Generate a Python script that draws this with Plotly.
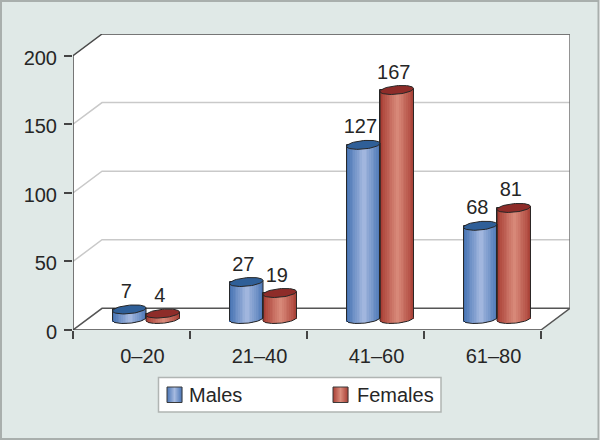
import numpy as np
import plotly.graph_objects as go

categories = ["0–20", "21–40", "41–60", "61–80"]
males = [7, 27, 127, 68]
females = [4, 19, 167, 81]
y_ticks = [0, 50, 100, 150, 200]

DX, DY = 0.248, 15.8          # depth of the box in data units
BW = 0.286                    # cylinder width
FLOOR = 8.0                   # cylinder base level
EB = 3.1                      # ellipse semi-minor
TILT = 1.1                    # ellipse tilt
NSTRIP = 19
FONT = "Liberation Sans, Arial, sans-serif"
INK = "#262626"
FS = 20
L, T, PW, PH = 73, 34, 497, 296   # plot area in pixels

def mix(c1, c2, f):
    return "rgb(%d,%d,%d)" % tuple(round(a + (b - a) * f) for a, b in zip(c1, c2))

def px(x):
    return (x - L) / PW

def py(y):
    return (T + PH - y) / PH

series = [
    dict(name="Males", vals=males, side=-0.5, edge=(72, 116, 180), mid=(166, 186, 224),
         top="#2f5f98", swatch="#7d9fd2", leg=(167, 188)),
    dict(name="Females", vals=females, side=0.5, edge=(168, 62, 52), mid=(218, 140, 124),
         top="#8e2c29", swatch="#cf6f62", leg=(333, 356)),
]

fig = go.Figure()
idx = np.arange(len(categories), dtype=float)
for s in series:
    vals = np.array(s["vals"], dtype=float)
    cx = idx + 0.5 + DX / 2 + s["side"] * BW
    fig.add_trace(go.Bar(x=cx, y=vals, base=FLOOR, width=BW, name=s["name"], showlegend=False,
                         marker=dict(color=s["swatch"], line=dict(color=INK, width=1)),
                         hoverinfo="skip"))
    edges = np.linspace(-1, 1, NSTRIP + 1)
    for k in range(NSTRIP):
        u = (edges[k] + edges[k + 1]) / 2
        low = FLOOR + TILT * u - EB * np.sqrt(max(0, 1 - u * u))
        high = vals + FLOOR + TILT * u
        f = 1 - abs(u - 0.05)
        fig.add_trace(go.Bar(x=cx + u * BW / 2, y=high - low, base=low,
                             width=BW / NSTRIP * 1.25, showlegend=False, hoverinfo="skip",
                             marker=dict(color=mix(s["edge"], s["mid"], f), line=dict(width=0))))
    th = np.linspace(0, 2 * np.pi, 61)
    tx, ty, ox, oy = [], [], [], []
    ub = np.linspace(-1, 1, 41)
    for c, v in zip(cx, vals):
        tx += list(c + np.cos(th) * BW / 2) + [None]
        ty += list(FLOOR + v + TILT * np.cos(th) + EB * np.sin(th)) + [None]
        ox += list(c + ub * BW / 2) + [None]
        oy += list(FLOOR + TILT * ub - EB * np.sqrt(1 - ub * ub)) + [None]
        ox += [c - BW / 2, c - BW / 2, None, c + BW / 2, c + BW / 2, None]
        oy += [FLOOR - TILT, FLOOR + v - TILT, None, FLOOR + TILT, FLOOR + v + TILT, None]
    fig.add_trace(go.Scatter(x=ox, y=oy, mode="lines", showlegend=False, hoverinfo="skip",
                             line=dict(color=INK, width=1)))
    fig.add_trace(go.Scatter(x=tx, y=ty, mode="lines", fill="toself", fillcolor=s["top"],
                             showlegend=False, hoverinfo="skip", line=dict(color=INK, width=1)))
    fig.add_trace(go.Scatter(x=cx - 0.025, y=vals + FLOOR + 12, mode="text",
                             text=[str(int(v)) for v in vals], textposition="middle center",
                             textfont=dict(family=FONT, size=FS, color=INK),
                             showlegend=False, hoverinfo="skip"))

X = len(categories)
shapes = [
    dict(type="rect", xref="paper", yref="paper", layer="below",
         x0=px(1), x1=px(598.5), y0=py(439), y1=py(1), fillcolor="#e0e9e7",
         line=dict(color="#a9afad", width=2)),
    dict(type="path", xref="x", yref="y", layer="below", fillcolor="white", line=dict(width=0),
         path=f"M0,0 L0,200 L{DX},{200+DY} L{X+DX},{200+DY} L{X+DX},{DY} L{X},0 Z"),
]
def seg(pts, color, width):
    p = "M" + " L".join(f"{a},{b}" for a, b in pts)
    return dict(type="path", xref="x", yref="y", layer="below", path=p, line=dict(color=color, width=width))
for v in y_ticks[1:-1]:
    shapes.append(seg([(0, v), (DX, v + DY), (X + DX, v + DY)], "#c9c9c9", 1.5))
shapes.append(seg([(0, 0), (DX, DY), (X + DX, DY), (X, 0)], "#555555", 1.5))
shapes.append(seg([(0, 0), (0, 200), (DX, 200 + DY), (X + DX, 200 + DY)], "#4a4a4a", 1.5))
shapes.append(seg([(X + DX, DY), (X + DX, 200 + DY)], "#707070", 1.5))
shapes.append(seg([(0, 0), (X, 0)], "#444444", 1.5))

# legend box
shapes.append(dict(type="rect", xref="paper", yref="paper", x0=px(158.5), x1=px(441), y0=py(412),
                   y1=py(377.5), fillcolor="white", line=dict(color="#b0b5b3", width=1.5)))
annotations = []
for s in series:
    x0, tx0 = s["leg"]
    n = 15
    for k in range(n):
        u = (k + 0.5) / n * 2 - 1
        f = 1 - abs(u)
        shapes.append(dict(type="rect", xref="paper", yref="paper", x0=px(x0 + k), x1=px(x0 + k + 1.2),
                           y0=py(402.5), y1=py(387), fillcolor=mix(s["edge"], s["mid"], f),
                           line=dict(width=0)))
    shapes.append(dict(type="rect", xref="paper", yref="paper", x0=px(x0), x1=px(x0 + 15),
                       y0=py(402.5), y1=py(387), line=dict(color="#3a3a3a", width=1)))
    annotations.append(dict(xref="paper", yref="paper", x=px(tx0), y=py(394.5), text=s["name"],
                            showarrow=False, xanchor="left", yanchor="middle", xshift=-1,
                            font=dict(family=FONT, size=FS, color=INK)))

fig.update_layout(
    width=600, height=441, autosize=False,
    margin=dict(l=L, r=600 - L - PW, t=T, b=441 - T - PH),
    paper_bgcolor="#ffffff", plot_bgcolor="rgba(0,0,0,0)",
    barmode="overlay", bargap=0, shapes=shapes, annotations=annotations,
    font=dict(family=FONT, size=FS, color=INK),
    xaxis=dict(range=[0, X + DX], showgrid=False, zeroline=False, showline=False,
               tickmode="array", tickvals=list(idx + 0.5 + DX / 2 - 0.03), ticktext=categories,
               ticks="", ticklabelstandoff=12,
               minor=dict(tickmode="array", tickvals=list(range(X + 1)), ticks="outside",
                          ticklen=8, tickwidth=1.5, tickcolor="#444444")),
    yaxis=dict(range=[0, 200 + DY], showgrid=False, zeroline=False, showline=False,
               tickmode="array", tickvals=y_ticks, ticks="outside", ticklen=8, tickwidth=1.5,
               tickcolor="#444444", ticklabelstandoff=3, ticklabelshift=2),
    showlegend=False,
)
fig.write_html("out.html", post_script="document.body.style.margin='0';",
               config={"displayModeBar": False})
